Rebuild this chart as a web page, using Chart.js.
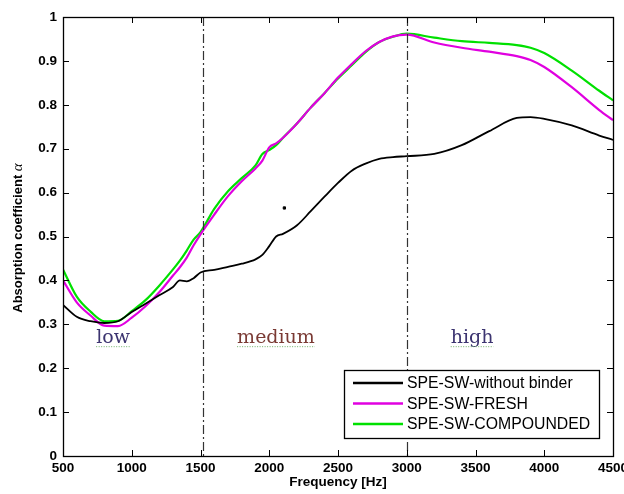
<!DOCTYPE html>
<html><head><meta charset="utf-8">
<script src="https://cdn.jsdelivr.net/npm/chart.js@4.4.1/dist/chart.umd.min.js"></script>
<style>html,body{margin:0;padding:0;background:#fff;}#wrap{width:624px;height:494px;}</style>
</head><body><div id="wrap"><canvas id="c" width="624" height="494"></canvas></div>
<script>
const freq = [500,600,700,800,900,1000,1100,1200,1300,1350,1400,1450,1500,1600,1700,1800,1900,1950,2000,2050,2100,2200,2300,2400,2500,2600,2700,2800,2900,3000,3200,3400,3600,3800,3900,4000,4200,4400,4500];
const withoutBinder = [.344,.317,.307,.303,.307,.328,.347,.366,.385,.400,.398,.405,.418,.424,.431,.438,.448,.458,.478,.500,.506,.525,.557,.590,.622,.650,.666,.677,.681,.683,.688,.708,.740,.770,.772,.768,.753,.730,.720];
const fresh = [.40,.35,.32,.297,.296,.315,.341,.373,.411,.430,.452,.480,.505,.550,.592,.626,.655,.673,.703,.712,.725,.757,.793,.826,.862,.893,.922,.943,.956,.960,.942,.930,.921,.911,.902,.886,.840,.788,.765];
const compounded = [.425,.363,.329,.307,.308,.330,.355,.388,.425,.445,.468,.493,.510,.563,.603,.633,.662,.688,.697,.708,.725,.757,.793,.826,.860,.890,.920,.943,.955,.962,.953,.945,.941,.936,.930,.918,.878,.832,.810];
const strayPoint = [{x:2110, y:0.565}];
const seriesNames = ['SPE-SW-without binder','SPE-SW-FRESH','SPE-SW-COMPOUNDED'];
const xTicks = [500,1000,1500,2000,2500,3000,3500,4000,4500];
const yTicks = [0,0.1,0.2,0.3,0.4,0.5,0.6,0.7,0.8,0.9,1];
const bandLines = [1520,3000];
const bandLabels = ['low','medium','high'];
const bandLabelX = [864,2049,3475];
const bandLabelY = 0.257;

const pts = arr => freq.map((f,i)=>({x:f,y:arr[i]}));
const FONT = '"Liberation Sans", Arial, sans-serif';

const deco = {
  id:'deco',
  afterDatasetsDraw(chart){
    const ctx = chart.ctx, ca = chart.chartArea, xs = chart.scales.x, ys = chart.scales.y;
    ctx.save();
    // dash-dot vertical lines
    ctx.strokeStyle = '#333'; ctx.lineWidth = 1.2; ctx.setLineDash([9,3,2,3]);
    bandLines.forEach(v=>{const px=Math.round(xs.getPixelForValue(v))+0.5;ctx.beginPath();ctx.moveTo(px,ca.top);ctx.lineTo(px,ca.bottom);ctx.stroke();});
    ctx.setLineDash([]);
    // band labels
    ctx.font = '19px "DejaVu Serif", serif'; ctx.textAlign='center'; ctx.textBaseline='alphabetic';
    const bandCols=['#3c3470','#7a3a34','#3c3470'];
    bandLabels.forEach((t,i)=>{
      const px=xs.getPixelForValue(bandLabelX[i]), py=ys.getPixelForValue(bandLabelY);
      ctx.fillStyle=bandCols[i];
      ctx.fillText(t,px,py);
      const w=ctx.measureText(t).width;
      ctx.strokeStyle='#6fb06a'; ctx.lineWidth=1; ctx.setLineDash([1,1.5]);
      ctx.beginPath(); ctx.moveTo(px-w/2,py+3.5); ctx.lineTo(px+w/2,py+3.5); ctx.stroke();
      ctx.setLineDash([]);
    });
    // frame
    ctx.strokeStyle='#000'; ctx.lineWidth=1.3;
    ctx.strokeRect(Math.round(ca.left)+0.5, Math.round(ca.top)+0.5, Math.round(ca.right-ca.left), Math.round(ca.bottom-ca.top));
    // inward ticks
    ctx.lineWidth=1; const L=6;
    xTicks.forEach(v=>{const px=Math.round(xs.getPixelForValue(v))+0.5;ctx.beginPath();ctx.moveTo(px,ca.bottom);ctx.lineTo(px,ca.bottom-L);ctx.moveTo(px,ca.top);ctx.lineTo(px,ca.top+L);ctx.stroke();});
    yTicks.forEach(v=>{const py=Math.round(ys.getPixelForValue(v))+0.5;ctx.beginPath();ctx.moveTo(ca.left,py);ctx.lineTo(ca.left+L,py);ctx.moveTo(ca.right,py);ctx.lineTo(ca.right-L,py);ctx.stroke();});
    // legend
    const bx=344, by=370, bw=255, bh=68;
    ctx.fillStyle='#fff'; ctx.fillRect(bx,by,bw,bh);
    ctx.strokeStyle='#000'; ctx.lineWidth=1.3; ctx.strokeRect(bx+0.5,by+0.5,bw,bh);
    ctx.font='15.8px '+FONT; ctx.textAlign='left'; ctx.textBaseline='middle';
    const cols=['#000000','#e000e0','#00e000'];
    seriesNames.forEach((n,i)=>{
      const yy=by+13+i*20.5;
      ctx.strokeStyle=cols[i]; ctx.lineWidth=2.5;
      ctx.beginPath(); ctx.moveTo(bx+9,yy); ctx.lineTo(bx+59,yy); ctx.stroke();
      ctx.fillStyle='#000'; ctx.fillText(n,bx+63,yy+1);
    });
    // y title
    ctx.save(); ctx.translate(18,238); ctx.rotate(-Math.PI/2);
    ctx.textBaseline='middle'; ctx.fillStyle='#000';
    const t1='Absorption coefficient ';
    ctx.font='bold 13px '+FONT;
    const w1=ctx.measureText(t1).width;
    ctx.font='italic 15px "Liberation Serif", serif';
    const w2=ctx.measureText('α').width;
    ctx.textAlign='left';
    ctx.font='bold 13px '+FONT;
    ctx.fillText(t1,-(w1+w2)/2,0);
    ctx.font='italic 15px "Liberation Serif", serif';
    ctx.fillText('α',-(w1+w2)/2+w1,0);
    ctx.restore();
    ctx.restore();
  }
};

new Chart(document.getElementById('c'),{
  type:'line',
  data:{datasets:[
    {label:seriesNames[0],data:pts(withoutBinder),borderColor:'#000',borderWidth:1.8,pointRadius:0,cubicInterpolationMode:'monotone'},
    {label:seriesNames[1],data:pts(fresh),borderColor:'#e000e0',borderWidth:2.2,pointRadius:0,cubicInterpolationMode:'monotone'},
    {label:seriesNames[2],data:pts(compounded),borderColor:'#00e000',borderWidth:2.2,pointRadius:0,cubicInterpolationMode:'monotone'},
    {label:'dot',data:strayPoint,type:'scatter',showLine:false,pointRadius:1.6,pointStyle:'rect',backgroundColor:'#000',borderColor:'#000'}
  ]},
  options:{
    responsive:false,animation:false,
    layout:{padding:{top:17,right:11,left:0,bottom:0}},
    plugins:{legend:{display:false},tooltip:{enabled:false}},
    scales:{
      x:{type:'linear',min:500,max:4500,
        afterBuildTicks(s){s.ticks=xTicks.map(v=>({value:v}));},
        afterFit(s){s.height=38;s.paddingLeft=0;s.paddingRight=0;},
        grid:{display:false,drawTicks:false},border:{display:false},
        ticks:{color:'#000',font:{family:FONT,size:13.5,weight:'bold'},padding:4,maxRotation:0,autoSkip:false,callback:v=>String(v)},
        title:{display:true,text:'Frequency [Hz]',color:'#000',font:{family:FONT,size:13.5,weight:'bold'},padding:{top:0,bottom:4}}
      },
      y:{min:0,max:1,
        afterBuildTicks(s){s.ticks=yTicks.map(v=>({value:v}));},
        afterFit(s){s.width=63;s.paddingTop=0;s.paddingBottom=0;},
        grid:{display:false,drawTicks:false},border:{display:false},
        ticks:{color:'#000',font:{family:FONT,size:13.5,weight:'bold'},padding:6,autoSkip:false,callback:v=>String(Math.round(v*10)/10)}
      }
    }
  },
  plugins:[deco]
});
</script></body></html>
